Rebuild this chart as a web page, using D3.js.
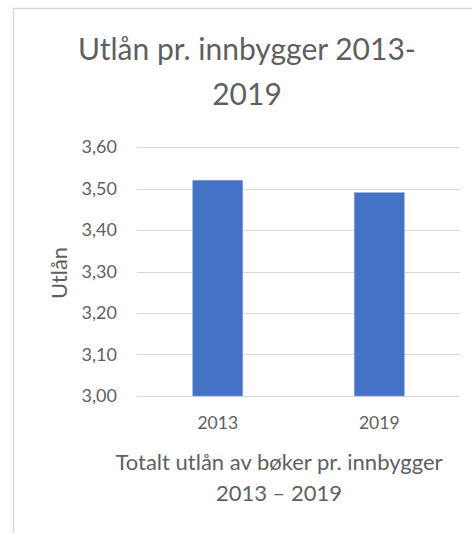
<!DOCTYPE html>
<html>
<head>
<meta charset="utf-8">
<script src="https://cdn.jsdelivr.net/npm/d3@7"></script>
<style>
  html, body { margin: 0; padding: 0; background: #fff; }
  svg { display: block; font-family: Lato, "Open Sans", sans-serif; }
</style>
</head>
<body>
<div id="chart"></div>
<script>
// Utlån pr. innbygger, bar chart
var categories = ["2013", "2019"];
var values = [3.52, 3.49];
var yTicks = [3.0, 3.1, 3.2, 3.3, 3.4, 3.5, 3.6];
var titleLines = ["Utlån pr. innbygger 2013-", "2019"];
var xTitleLines = ["Totalt utlån av bøker pr. innbygger", "2013 – 2019"];
var yTitle = "Utlån";

(function () {
  "use strict";

  var width = 472, height = 533;
  var margin = { left: 137, right: 12, top: 147, bottom: 137 };
  var textColor = "#5f5f5f";

  var svg = d3.select("#chart").append("svg")
    .attr("width", width)
    .attr("height", height);

  // chart area frame (only left and top edges visible in the crop)
  svg.append("rect")
    .attr("x", 13.5).attr("y", 8.5)
    .attr("width", width + 20).attr("height", height + 20)
    .attr("fill", "#fff")
    .attr("stroke", "#d9d9d9")
    .attr("stroke-width", 1.5);

  var x = d3.scaleBand()
    .domain(categories)
    .range([margin.left, width - margin.right])
    .paddingInner(0.69)
    .paddingOuter(0.345);

  var y = d3.scaleLinear()
    .domain([3.0, 3.6])
    .range([height - margin.bottom, margin.top]);

  var fmt = function (d) { return d3.format(".2f")(d).replace(".", ","); };

  // gridlines
  svg.append("g")
    .selectAll("line")
    .data(yTicks)
    .join("line")
    .attr("x1", margin.left)
    .attr("x2", width - margin.right)
    .attr("y1", function (d) { return Math.round(y(d)) + 0.5; })
    .attr("y2", function (d) { return Math.round(y(d)) + 0.5; })
    .attr("stroke", "#d9d9d9")
    .attr("stroke-width", 1.2);

  // y axis labels
  var yAxis = d3.axisLeft(y).tickValues(yTicks).tickFormat(fmt).tickSize(0).tickPadding(20);
  var yg = svg.append("g")
    .attr("transform", "translate(" + margin.left + ",0)")
    .call(yAxis);
  yg.select(".domain").remove();
  yg.selectAll("text")
    .attr("fill", textColor)
    .attr("font-size", "18px")
    .attr("font-family", "Lato, sans-serif");

  // bars
  svg.append("g")
    .selectAll("rect")
    .data(values)
    .join("rect")
    .attr("x", function (d, i) { return x(categories[i]); })
    .attr("width", x.bandwidth())
    .attr("y", function (d) { return y(d); })
    .attr("height", function (d) { return y(3.0) - y(d); })
    .attr("fill", "#4472c4")
    .attr("stroke", "#8eaadb")
    .attr("stroke-width", 0.6);

  // x axis labels
  var xAxis = d3.axisBottom(x).tickSize(0).tickPadding(21);
  var xg = svg.append("g")
    .attr("transform", "translate(0," + y(3.0) + ")")
    .call(xAxis);
  xg.select(".domain").remove();
  xg.selectAll("text")
    .attr("fill", textColor)
    .attr("font-size", "17.5px")
    .attr("font-family", "Lato, sans-serif");

  // title
  svg.append("text")
    .attr("fill", textColor)
    .attr("font-size", "30px")
    .attr("text-anchor", "middle")
    .selectAll("tspan")
    .data(titleLines)
    .join("tspan")
    .attr("x", 247)
    .attr("y", function (d, i) { return 60 + i * 45; })
    .text(function (d) { return d; });

  // axis titles
  svg.append("text")
    .attr("fill", textColor)
    .attr("font-size", "22px")
    .attr("text-anchor", "middle")
    .selectAll("tspan")
    .data(xTitleLines)
    .join("tspan")
    .attr("x", 279)
    .attr("y", function (d, i) { return 470 + i * 31; })
    .text(function (d) { return d; });

  svg.append("text")
    .attr("fill", textColor)
    .attr("font-size", "22px")
    .attr("text-anchor", "middle")
    .attr("transform", "translate(67,273) rotate(-90)")
    .text(yTitle);
})();
</script>
</body>
</html>
